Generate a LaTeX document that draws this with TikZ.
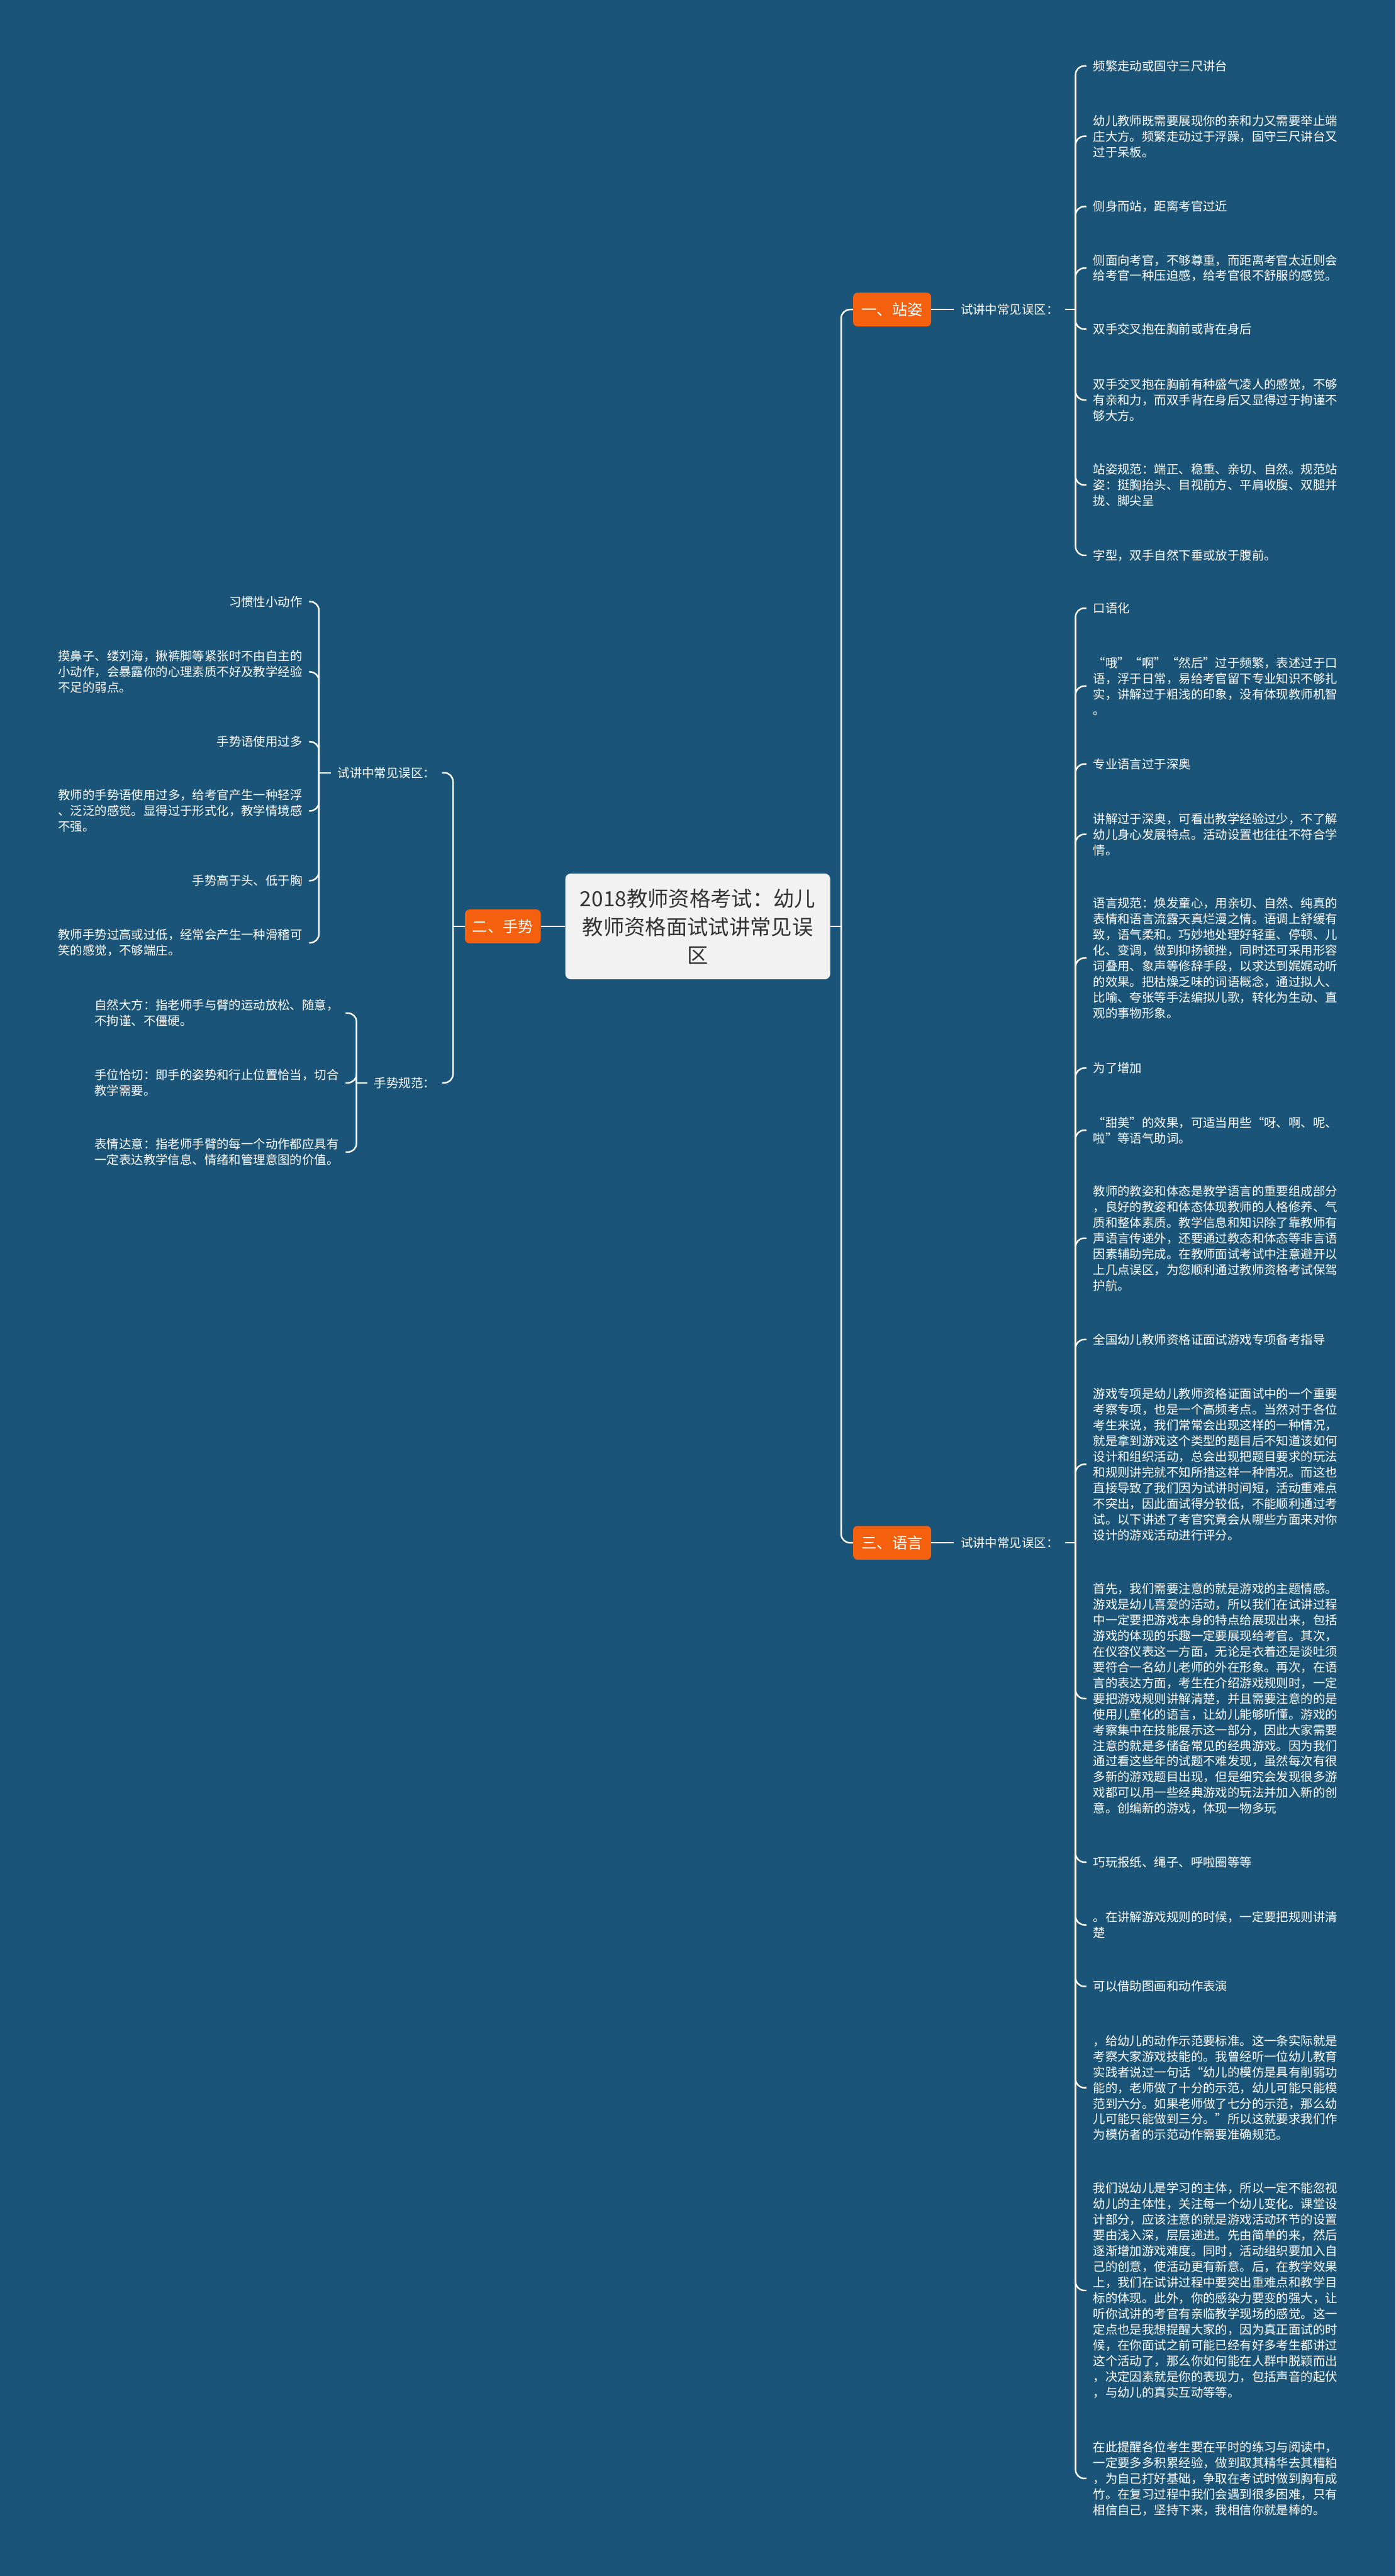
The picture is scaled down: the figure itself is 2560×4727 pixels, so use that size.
\documentclass[tikz,border=0pt]{standalone}
\usepackage{fontspec}
\setmainfont{Noto Sans CJK SC}
\definecolor{bg}{HTML}{1A5479}
\definecolor{org}{HTML}{F5600F}
\definecolor{ctr}{HTML}{F2F2F2}
\definecolor{ctext}{HTML}{333333}
\newcommand{\myitemfont}{\fontsize{11.2pt}{14.4pt}\selectfont}
\newcommand{\myboxfont}{\fontsize{14pt}{16pt}\selectfont}
\newcommand{\mycenterfont}{\fontsize{19.25pt}{26pt}\selectfont}
\begin{document}
\begin{tikzpicture}[x=0.5pt,y=-0.5pt,
  conn/.style={draw=white, line width=1.4pt, rounded corners=8pt},
  itemr/.style={anchor=west, align=left, inner xsep=6pt, inner ysep=1pt, text=white, font=\myitemfont},
  iteml/.style={anchor=east, align=left, inner xsep=6pt, inner ysep=1pt, text=white, font=\myitemfont},
  labr/.style={anchor=west, inner xsep=6pt, inner ysep=1pt, text=white, font=\myitemfont},
  labl/.style={anchor=east, inner xsep=6pt, inner ysep=1pt, text=white, font=\myitemfont},
  obox/.style={fill=org, rounded corners=4pt, text=white, minimum width=71.5pt, minimum height=31pt, inner sep=0pt, font=\myboxfont},
  cbox/.style={fill=ctr, rounded corners=5pt, text=ctext, minimum width=243pt, minimum height=97pt, inner sep=0pt, align=center, font=\mycenterfont}
]
\useasboundingbox (0,0) rectangle (2560,4727);
\fill[bg] (0,0) rectangle (2560,4727);

% center
\node[cbox] (c) at (1280,1700) {2018教师资格考试：幼儿\\教师资格面试试讲常见误\\区};

% branch boxes
\node[obox] (b1) at (1636.5,568) {一、站姿};
\node[obox] (b3) at (1636.5,2831) {三、语言};
\node[obox, minimum width=69.5pt] (b2) at (922.5,1700) {二、手势};

% labels
\node[labr] (lab1) at (1750,568) {试讲中常见误区：};
\node[labr] (lab3) at (1750,2831) {试讲中常见误区：};
\node[labl] (lab2a) at (811,1418) {试讲中常见误区：};
\node[labl] (lab2b) at (811,1987) {手势规范：};

% junctions
\coordinate (jc) at (1543,1700);
\coordinate (j1) at (1973,568);
\coordinate (j3) at (1973,2831);
\coordinate (j2) at (831,1700);
\coordinate (j2a) at (585,1418);
\coordinate (j2b) at (654,1987);

% group 1 items
\node[itemr] (r1) at (1993,121) {频繁走动或固守三尺讲台};
\node[itemr] (r2) at (1993,250) {幼儿教师既需要展现你的亲和力又需要举止端\\庄大方。频繁走动过于浮躁，固守三尺讲台又\\过于呆板。};
\node[itemr] (r3) at (1993,379) {侧身而站，距离考官过近};
\node[itemr] (r4) at (1993,492) {侧面向考官，不够尊重，而距离考官太近则会\\给考官一种压迫感，给考官很不舒服的感觉。};
\node[itemr] (r5) at (1993,604) {双手交叉抱在胸前或背在身后};
\node[itemr] (r6) at (1993,734) {双手交叉抱在胸前有种盛气凌人的感觉，不够\\有亲和力，而双手背在身后又显得过于拘谨不\\够大方。};
\node[itemr] (r7) at (1993,890) {站姿规范：端正、稳重、亲切、自然。规范站\\姿：挺胸抬头、目视前方、平肩收腹、双腿并\\拢、脚尖呈};
\node[itemr] (r8) at (1993,1019) {字型，双手自然下垂或放于腹前。};

% group 3 items
\node[itemr] (s1) at (1993,1116) {口语化};
\node[itemr] (s2) at (1993,1259) {“哦”“啊”“然后”过于频繁，表述过于口\\语，浮于日常，易给考官留下专业知识不够扎\\实，讲解过于粗浅的印象，没有体现教师机智\\。};
\node[itemr] (s3) at (1993,1402) {专业语言过于深奥};
\node[itemr] (s4) at (1993,1531) {讲解过于深奥，可看出教学经验过少，不了解\\幼儿身心发展特点。活动设置也往往不符合学\\情。};
\node[itemr] (s5) at (1993,1758) {语言规范：焕发童心，用亲切、自然、纯真的\\表情和语言流露天真烂漫之情。语调上舒缓有\\致，语气柔和。巧妙地处理好轻重、停顿、儿\\化、变调，做到抑扬顿挫，同时还可采用形容\\词叠用、象声等修辞手段，以求达到娓娓动听\\的效果。把枯燥乏味的词语概念，通过拟人、\\比喻、夸张等手法编拟儿歌，转化为生动、直\\观的事物形象。};
\node[itemr] (s6) at (1993,1960) {为了增加};
\node[itemr] (s7) at (1993,2074) {“甜美”的效果，可适当用些“呀、啊、呢、\\啦”等语气助词。};
\node[itemr] (s8) at (1993,2272) {教师的教姿和体态是教学语言的重要组成部分\\，良好的教姿和体态体现教师的人格修养、气\\质和整体素质。教学信息和知识除了靠教师有\\声语言传递外，还要通过教态和体态等非言语\\因素辅助完成。在教师面试考试中注意避开以\\上几点误区，为您顺利通过教师资格考试保驾\\护航。};
\node[itemr] (s9) at (1993,2458) {全国幼儿教师资格证面试游戏专项备考指导};
\node[itemr] (s10) at (1993,2687) {游戏专项是幼儿教师资格证面试中的一个重要\\考察专项，也是一个高频考点。当然对于各位\\考生来说，我们常常会出现这样的一种情况，\\就是拿到游戏这个类型的题目后不知道该如何\\设计和组织活动，总会出现把题目要求的玩法\\和规则讲完就不知所措这样一种情况。而这也\\直接导致了我们因为试讲时间短，活动重难点\\不突出，因此面试得分较低，不能顺利通过考\\试。以下讲述了考官究竟会从哪些方面来对你\\设计的游戏活动进行评分。};
\node[itemr] (s11) at (1993,3117) {首先，我们需要注意的就是游戏的主题情感。\\游戏是幼儿喜爱的活动，所以我们在试讲过程\\中一定要把游戏本身的特点给展现出来，包括\\游戏的体现的乐趣一定要展现给考官。其次，\\在仪容仪表这一方面，无论是衣着还是谈吐须\\要符合一名幼儿老师的外在形象。再次，在语\\言的表达方面，考生在介绍游戏规则时，一定\\要把游戏规则讲解清楚，并且需要注意的的是\\使用儿童化的语言，让幼儿能够听懂。游戏的\\考察集中在技能展示这一部分，因此大家需要\\注意的就是多储备常见的经典游戏。因为我们\\通过看这些年的试题不难发现，虽然每次有很\\多新的游戏题目出现，但是细究会发现很多游\\戏都可以用一些经典游戏的玩法并加入新的创\\意。创编新的游戏，体现一物多玩};
\node[itemr] (s12) at (1993,3417) {巧玩报纸、绳子、呼啦圈等等};
\node[itemr] (s13) at (1993,3532) {。在讲解游戏规则的时候，一定要把规则讲清\\楚};
\node[itemr] (s14) at (1993,3645) {可以借助图画和动作表演};
\node[itemr] (s15) at (1993,3831) {，给幼儿的动作示范要标准。这一条实际就是\\考察大家游戏技能的。我曾经听一位幼儿教育\\实践者说过一句话“幼儿的模仿是具有削弱功\\能的，老师做了十分的示范，幼儿可能只能模\\范到六分。如果老师做了七分的示范，那么幼\\儿可能只能做到三分。”所以这就要求我们作\\为模仿者的示范动作需要准确规范。};
\node[itemr] (s16) at (1993,4203) {我们说幼儿是学习的主体，所以一定不能忽视\\幼儿的主体性，关注每一个幼儿变化。课堂设\\计部分，应该注意的就是游戏活动环节的设置\\要由浅入深，层层递进。先由简单的来，然后\\逐渐增加游戏难度。同时，活动组织要加入自\\己的创意，使活动更有新意。后，在教学效果\\上，我们在试讲过程中要突出重难点和教学目\\标的体现。此外，你的感染力要变的强大，让\\听你试讲的考官有亲临教学现场的感觉。这一\\定点也是我想提醒大家的，因为真正面试的时\\候，在你面试之前可能已经有好多考生都讲过\\这个活动了，那么你如何能在人群中脱颖而出\\，决定因素就是你的表现力，包括声音的起伏\\，与幼儿的真实互动等等。};
\node[itemr] (s17) at (1993,4548) {在此提醒各位考生要在平时的练习与阅读中，\\一定要多多积累经验，做到取其精华去其糟粕\\，为自己打好基础，争取在考试时做到胸有成\\竹。在复习过程中我们会遇到很多困难，只有\\相信自己，坚持下来，我相信你就是棒的。};

% group 2 items
\node[iteml] (l1) at (567,1104) {习惯性小动作};
\node[iteml] (l2) at (567,1233) {摸鼻子、缕刘海，揪裤脚等紧张时不由自主的\\小动作，会暴露你的心理素质不好及教学经验\\不足的弱点。};
\node[iteml] (l3) at (567,1361) {手势语使用过多};
\node[iteml] (l4) at (567,1488) {教师的手势语使用过多，给考官产生一种轻浮\\、泛泛的感觉。显得过于形式化，教学情境感\\不强。};
\node[iteml] (l5) at (567,1616) {手势高于头、低于胸};
\node[iteml] (l6) at (567,1730) {教师手势过高或过低，经常会产生一种滑稽可\\笑的感觉，不够端庄。};
\node[iteml] (m1) at (634,1859) {自然大方：指老师手与臂的运动放松、随意，\\不拘谨、不僵硬。};
\node[iteml] (m2) at (634,1987) {手位恰切：即手的姿势和行止位置恰当，切合\\教学需要。};
\node[iteml] (m3) at (634,2114) {表情达意：指老师手臂的每一个动作都应具有\\一定表达教学信息、情绪和管理意图的价值。};

% connectors: center
\draw[conn] (c.east) -- (jc);
\draw[conn] (jc) |- (b1.west);
\draw[conn] (jc) |- (b3.west);
\draw[conn] (c.west) -- (b2.east);
% right branches
\draw[conn] (b1.east) -- (lab1.west);
\draw[conn] (lab1.east) -- (j1);
\draw[conn] (b3.east) -- (lab3.west);
\draw[conn] (lab3.east) -- (j3);
\foreach \n in {r1,r2,r3,r4,r5,r6,r7,r8}{\draw[conn] (j1) |- (\n.west);}
\foreach \n in {s1,s2,s3,s4,s5,s6,s7,s8,s9,s10,s11,s12,s13,s14,s15,s16,s17}{\draw[conn] (j3) |- (\n.west);}
% left branch
\draw[conn] (b2.west) -- (j2);
\draw[conn] (j2) |- (lab2a.east);
\draw[conn] (j2) |- (lab2b.east);
\draw[conn] (lab2a.west) -- (j2a);
\draw[conn] (lab2b.west) -- (j2b);
\foreach \n in {l1,l2,l3,l4,l5,l6}{\draw[conn] (j2a) |- (\n.east);}
\foreach \n in {m1,m2,m3}{\draw[conn] (j2b) |- (\n.east);}
\end{tikzpicture}
\end{document}
